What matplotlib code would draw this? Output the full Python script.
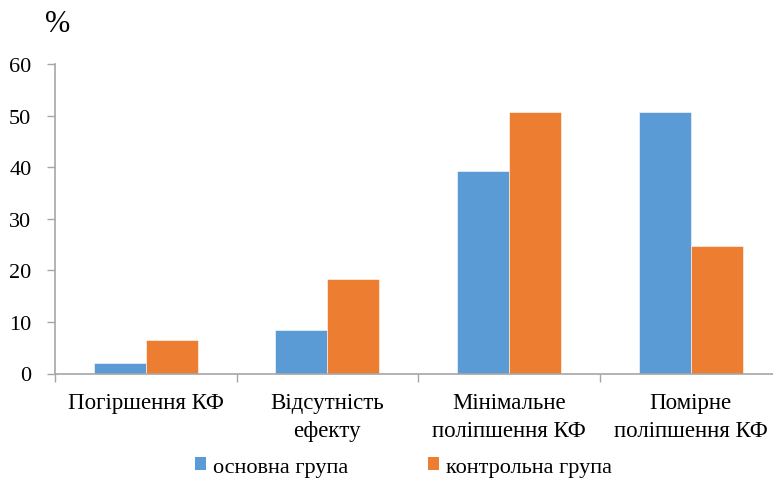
import matplotlib
matplotlib.use("Agg")
import matplotlib.pyplot as plt
from matplotlib.patches import Patch
import numpy as np

categories = ["Погіршення КФ", "Відсутність\nефекту", "Мінімальне\nполіпшення КФ", "Помірне\nполіпшення КФ"]
series_names = ["основна група", "контрольна група"]
main_group = [2.0, 8.4, 39.2, 50.6]
control_group = [6.4, 18.3, 50.6, 24.8]
y_ticks = [0, 10, 20, 30, 40, 50, 60]

plt.rcParams['font.family'] = ['Liberation Serif', 'DejaVu Serif']

W, H = 773, 481
fig = plt.figure(figsize=(W / 100, H / 100), dpi=100)
left, right = 55, 773
bottom, top = 374.5, 65
ax = fig.add_axes([left / W, (H - bottom) / H, (right - left) / W, (bottom - top) / H])

blue = "#5B9BD5"
orange = "#ED7D31"
fs = 16.5
x = np.arange(len(categories))
bw = 0.286
ax.bar(x - bw / 2, main_group, bw, color=blue, edgecolor="white", linewidth=0.4, label=series_names[0])
ax.bar(x + bw / 2, control_group, bw, color=orange, edgecolor="white", linewidth=0.4, label=series_names[1])

cat_px = 181.6
ax.set_xlim(-0.5, -0.5 + (right - left) / cat_px)
ax.set_ylim(0, 60)
ax.set_yticks(y_ticks)
ax.set_yticklabels([str(t) for t in y_ticks], fontsize=16)

ax.set_xticks(x)
ax.set_xticklabels(categories, fontsize=fs, linespacing=1.45)
ax.set_xticks(np.arange(len(categories)) - 0.5, minor=True)
ax.tick_params(axis="x", which="major", length=0, pad=13)
ax.tick_params(axis="x", which="minor", length=6, color="#a6a6a6", width=1)
ax.tick_params(axis="y", which="major", length=6, color="#a6a6a6", width=1, pad=11)

for s in ["top", "right"]:
    ax.spines[s].set_visible(False)
for s in ["left", "bottom"]:
    ax.spines[s].set_color("#a6a6a6")
    ax.spines[s].set_linewidth(1.2)

fig.text(57.5 / W, 1 - 25 / H, "%", fontsize=22, ha="center", va="center")

handles = [Patch(facecolor=blue, edgecolor="none"), Patch(facecolor=orange, edgecolor="none")]
fig.legend(handles, series_names, loc="center left", bbox_to_anchor=(195 / W, 1 - 468 / H),
           ncol=2, frameon=False, fontsize=16, handlelength=0.5, handleheight=0.5,
           handletextpad=0.3, columnspacing=3.6, borderaxespad=0, borderpad=0)

fig.savefig("out.png", dpi=100)
